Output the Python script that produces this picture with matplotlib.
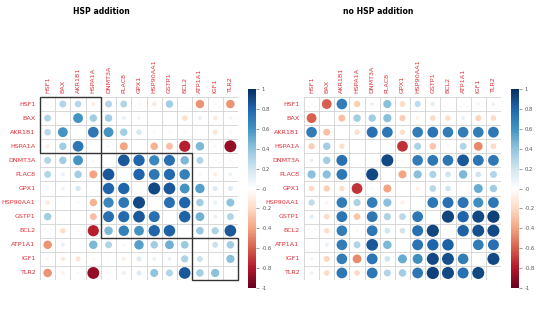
import numpy as np
import matplotlib
matplotlib.use("Agg")
import matplotlib.pyplot as plt
from matplotlib.colors import LinearSegmentedColormap, Normalize
from matplotlib.patches import Rectangle
import matplotlib.cm as cm

genes = ["HSF1", "BAX", "AKR1B1", "HSPA1A", "DNMT3A", "PLAC8", "GPX1",
         "HSP90AA1", "GSTP1", "BCL2", "ATP1A1", "IGF1", "TLR2"]

# correlations (symmetric, diagonal not drawn)
corr_hsp = [
    [1, .30, .28, -.10, .30, .30, .05, -.12, .35, 0, -.45, -.05, -.45],
    [.30, 1, .60, .35, .35, .10, .08, 0, 0, -.18, .10, -.12, -.08],
    [.28, .60, 1, .72, .60, .35, .18, .04, .03, .04, 0, -.15, .05],
    [-.10, .35, .72, 1, .05, -.40, 0, -.35, -.30, -.78, .45, -.05, -.88],
    [.30, .35, .60, .05, 1, .85, .80, .65, .75, .45, .30, .03, -.05],
    [.30, .10, .35, -.40, .85, 1, .80, .72, .78, .68, .05, -.10, .10],
    [.05, .08, .18, 0, .80, .80, 1, .90, .85, .60, .55, .15, .15],
    [-.12, 0, .04, -.35, .65, .72, .90, 1, .75, .80, .35, .10, .40],
    [.35, 0, .03, -.30, .75, .78, .85, .75, 1, .82, .48, .10, .30],
    [0, -.18, .04, -.78, .45, .68, .60, .80, .82, 1, .37, .32, .85],
    [-.45, .10, 0, .45, .30, .05, .55, .35, .48, .37, 1, .22, .35],
    [-.05, -.12, -.15, -.05, .03, -.10, .15, .10, .10, .32, .22, 1, .42],
    [-.45, -.08, .05, -.88, -.05, .10, .15, .40, .30, .85, .35, .42, 1],
]

corr_nohsp = [
    [1, -.60, .70, -.25, .10, .42, -.20, .25, .12, 0, 0, .07, .08],
    [-.60, 1, -.30, .35, .35, .42, -.25, -.08, -.20, -.18, .10, -.22, -.20],
    [.70, -.30, 1, -.18, .75, .72, -.18, .70, .73, .70, .70, .70, .72],
    [-.25, .35, -.18, 1, 0, 0, -.72, .32, -.28, -.05, .30, -.48, -.20],
    [.10, .35, .75, 0, 1, .90, -.05, .70, .72, .72, .85, .73, .72],
    [.42, .42, .72, 0, .90, 1, -.40, .42, .32, .20, .45, .20, .30],
    [-.20, -.25, -.18, -.72, -.05, -.40, 1, -.10, .28, .20, 0, .50, .35],
    [.25, -.08, .70, .32, .70, .42, -.10, 1, .72, .75, .74, .62, .72],
    [.12, -.20, .73, -.28, .72, .32, .28, .72, 1, .92, .80, .90, .93],
    [0, -.18, .70, -.05, .72, .20, .20, .75, .92, 1, .82, .88, .90],
    [0, .10, .70, .30, .85, .45, 0, .74, .80, .82, 1, .70, .75],
    [.07, -.22, .70, -.48, .73, .20, .50, .62, .90, .88, .70, 1, .90],
    [.08, -.20, .72, -.20, .72, .30, .35, .72, .93, .90, .75, .90, 1],
]

# hclust boxes on the left panel (first, last index)
boxes_hsp = [(0, 3), (4, 9), (10, 12)]

cmap = LinearSegmentedColormap.from_list("rdbu", [
    "#67001F", "#B2182B", "#D6604D", "#F4A582", "#FDDBC7", "#FFFFFF",
    "#D1E5F0", "#92C5DE", "#4393C3", "#2166AC", "#053061"])
norm = Normalize(-1, 1)

W, H = 550, 320
fig = plt.figure(figsize=(5.5, 3.2), dpi=100)
fig.patch.set_facecolor("white")


def px(x0, y0, x1, y1):
    return [x0 / W, 1 - y1 / H, (x1 - x0) / W, (y1 - y0) / H]


def corrplot(rect, cbrect, mat, title, tx, boxes=()):
    mat = np.array(mat, dtype=float)
    n = len(genes)
    ax = fig.add_axes(rect)
    ax.set_xlim(-0.5, n - 0.5)
    ax.set_ylim(n - 0.5, -0.5)
    ax.axis("off")

    # grid
    for k in range(n + 1):
        ax.plot([k - 0.5, k - 0.5], [-0.5, n - 0.5], color="#d2d2d2", lw=0.6, zorder=1)
        ax.plot([-0.5, n - 0.5], [k - 0.5, k - 0.5], color="#d2d2d2", lw=0.6, zorder=1)

    # cell size in points -> circle size
    cw = rect[2] * 5.5 * 72 / n
    ch = rect[3] * 3.2 * 72 / n
    cell = min(cw, ch)
    xs, ys, ss, cs = [], [], [], []
    for i in range(n):
        for j in range(n):
            if i == j:
                continue
            r = mat[i, j]
            d = 0.9 * np.sqrt(abs(r)) * cell
            xs.append(j)
            ys.append(i)
            ss.append(d ** 2)
            cs.append(cmap(norm(r)))
    ax.scatter(xs, ys, s=ss, c=cs, linewidths=0, zorder=2)

    for a, b in boxes:
        ax.add_patch(Rectangle((a - 0.5, a - 0.5), b - a + 1, b - a + 1,
                               fill=False, ec="#333333", lw=1.0, zorder=3,
                               clip_on=False))

    for k, g in enumerate(genes):
        ax.text(-0.8, k, g, ha="right", va="center", fontsize=4.6, color="#E0313A")
        ax.text(k, -0.75, g, ha="center", va="bottom", rotation=90,
                fontsize=4.6, color="#E0313A")

    fig.text(tx / W, 1 - 11 / H, title, ha="center", va="center",
             fontsize=5.6, fontweight="bold")

    cax = fig.add_axes(cbrect)
    sm = cm.ScalarMappable(norm=norm, cmap=cmap)
    ticks = np.round(np.arange(-1, 1.01, 0.2), 1)
    cb = fig.colorbar(sm, cax=cax, ticks=ticks)
    cb.outline.set_visible(False)
    cb.ax.set_yticklabels([f"{t:g}" for t in ticks])
    cb.ax.tick_params(labelsize=3.8, length=2, width=0.4, colors="#555555", pad=2)
    return ax


corrplot(px(40, 97, 238, 280), px(248, 89, 256, 288), corr_hsp,
         "HSP addition", 101, boxes_hsp)
corrplot(px(304, 97, 501, 280), px(511, 89, 519, 288), corr_nohsp,
         "no HSP addition", 378)

fig.savefig("out.png", dpi=100)
